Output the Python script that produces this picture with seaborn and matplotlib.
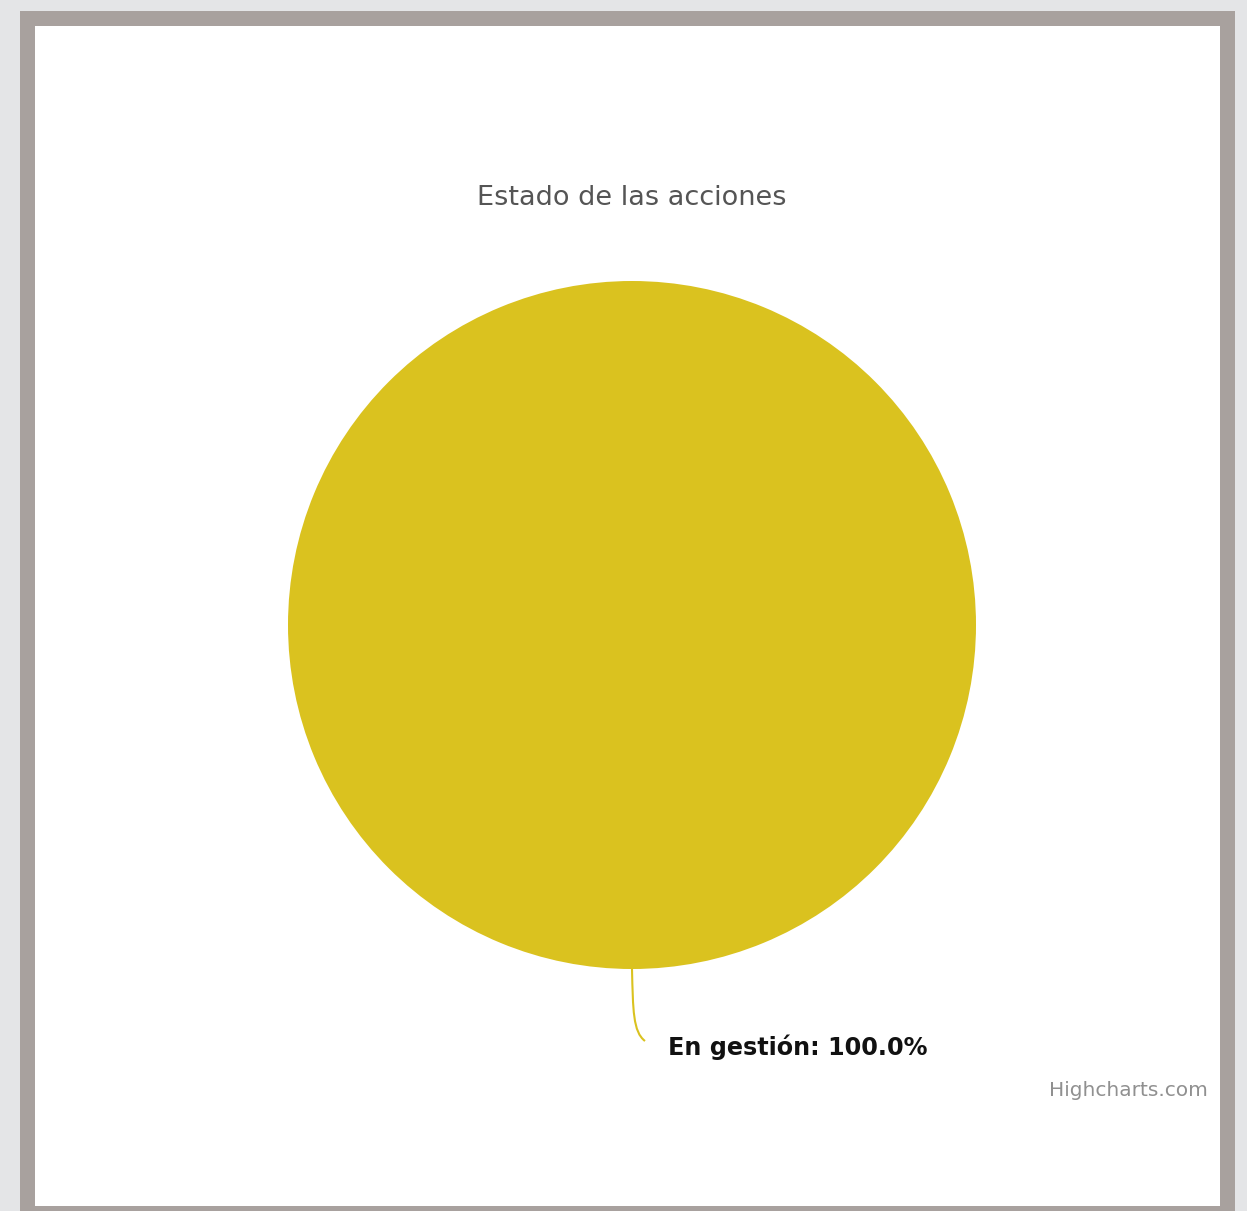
import numpy as np
import matplotlib.pyplot as plt
import seaborn as sns
from matplotlib.patches import Rectangle, PathPatch
from matplotlib.path import Path

sns.set_style('white')
plt.rcParams['font.family'] = ['DejaVu Sans']

# Datos del gráfico
categorias = ['En gestión']
valores = [100.0]
colores = ['#dac21f']
titulo = 'Estado de las acciones'
credito = 'Highcharts.com'

W, H = 1247, 1211
fig = plt.figure(figsize=(W / 100, H / 100), dpi=100, facecolor='#e4e5e7')
ax = fig.add_axes([0, 0, 1, 1])

# marco gris y fondo blanco
ax.add_patch(Rectangle((20, 11), 1215, 1220, facecolor='#a8a19e', edgecolor='none', zorder=0))
ax.add_patch(Rectangle((35, 26), 1185, 1180, facecolor='white', edgecolor='none', zorder=1))

# tarta
cx, cy, r = 632, 625, 344
ax.pie(valores, colors=colores, center=(cx, cy), radius=r, startangle=-90,
       counterclock=False, wedgeprops=dict(linewidth=0, zorder=2), frame=True)
ax.set_xlim(0, W)
ax.set_ylim(H, 0)
ax.set_aspect('auto')
ax.axis('off')

ax.text(632, 198, titulo, ha='center', va='center', fontsize=19.5, color='#555555', zorder=3)

# conector de la etiqueta
pct = valores[0] / sum(valores) * 100
verts = [(cx, cy + r), (cx + 1, 1010), (633, 1032), (645, 1041)]
codes = [Path.MOVETO, Path.CURVE4, Path.CURVE4, Path.CURVE4]
ax.add_patch(PathPatch(Path(verts, codes), facecolor='none', edgecolor=colores[0], lw=1.5, zorder=3))
ax.text(668, 1047, f'{categorias[0]}: {pct:.1f}%', ha='left', va='center',
        fontsize=17.2, fontweight='bold', color='#111111', zorder=3)

ax.text(1208, 1091, credito, ha='right', va='center', fontsize=14.5, color='#909090', zorder=3)

fig.savefig('out.png', dpi=100, facecolor=fig.get_facecolor())
